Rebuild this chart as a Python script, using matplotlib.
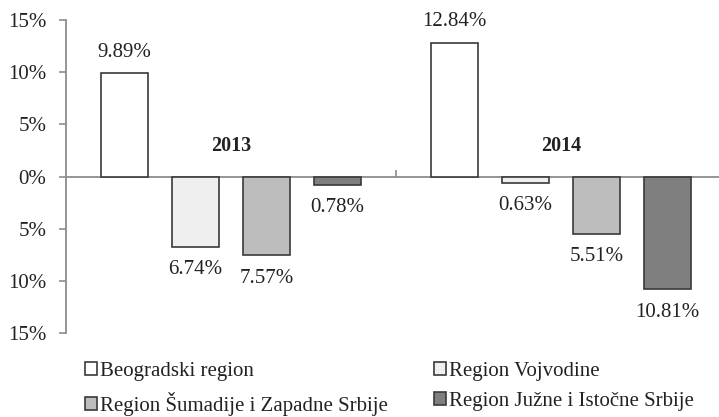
import numpy as np
import matplotlib
matplotlib.use("Agg")
import matplotlib.pyplot as plt
from matplotlib.patches import Patch
from matplotlib.ticker import FuncFormatter, FixedLocator

plt.rcParams['font.family'] = ['Liberation Serif', 'DejaVu Serif']

years = ["2013", "2014"]
regions = ["Beogradski region", "Region Vojvodine",
           "Region Šumadije i Zapadne Srbije", "Region Južne i Istočne Srbije"]
values = {
    "Beogradski region": [9.89, 12.84],
    "Region Vojvodine": [-6.74, -0.63],
    "Region Šumadije i Zapadne Srbije": [-7.57, -5.51],
    "Region Južne i Istočne Srbije": [-0.78, -10.81],
}
colors = ["#ffffff", "#efefef", "#bdbdbd", "#7f7f7f"]
text_color = "#222222"

fig = plt.figure(figsize=(7.19, 4.17), dpi=100)
ax = fig.add_axes([66 / 719, 1 - 333 / 417, 1 - 66 / 719, (333 - 20) / 417])

x = np.arange(len(years))
pitch = 0.215
width = 0.143
handles = []
for i, reg in enumerate(regions):
    pos = x + (i - 1.5) * pitch
    bars = ax.bar(pos, values[reg], width, color=colors[i],
                  edgecolor="#3a3a3a", linewidth=1.2, zorder=3)
    for b, v in zip(bars, values[reg]):
        off = 15 if v > 0 else -16.5
        ax.annotate(f"{abs(v):.2f}%", (b.get_x() + b.get_width() / 2, v),
                    xytext=(0, off), textcoords="offset points",
                    ha="center", va="center", fontsize=15, color=text_color)
    handles.append(Patch(facecolor=colors[i], edgecolor="#3a3a3a",
                         linewidth=1.2, label=reg))

for xi, yr in zip(x, years):
    ax.text(xi, 2.97, yr, ha="center", va="center", fontsize=14.5,
            fontweight="bold", color=text_color)

ax.set_ylim(-15, 15)
ax.set_xlim(-0.5, 1.5 - 7 / 330)
ax.set_yticks(np.arange(-15, 16, 5))
ax.yaxis.set_major_formatter(FuncFormatter(lambda v, p: f"{abs(v):.0f}%"))
ax.tick_params(axis="y", labelsize=15, labelcolor=text_color, color="#8c8c8c",
               length=5, width=1.2, pad=9)

ax.spines["top"].set_visible(False)
ax.spines["right"].set_visible(False)
ax.spines["left"].set_color("#8c8c8c")
ax.spines["left"].set_linewidth(1.3)
ax.spines["bottom"].set_position(("data", 0))
ax.spines["bottom"].set_color("#8c8c8c")
ax.spines["bottom"].set_linewidth(1.3)
ax.xaxis.set_major_locator(FixedLocator([0.5]))
ax.tick_params(axis="x", direction="in", length=5, width=1.2,
               color="#8c8c8c", labelbottom=False)

# legend is filled row by row in the reference
order = [0, 2, 1, 3]
leg = fig.legend(handles=[handles[k] for k in order], loc="center left",
                 bbox_to_anchor=(85 / 719, 1 - 389 / 417), ncol=2,
                 frameon=False, fontsize=15, handlelength=0.58,
                 handleheight=0.58, handletextpad=0.15, columnspacing=2.2,
                 labelspacing=0.5, borderpad=0, borderaxespad=0)
for t in leg.get_texts():
    t.set_color(text_color)

fig.savefig("out.png", dpi=100)
